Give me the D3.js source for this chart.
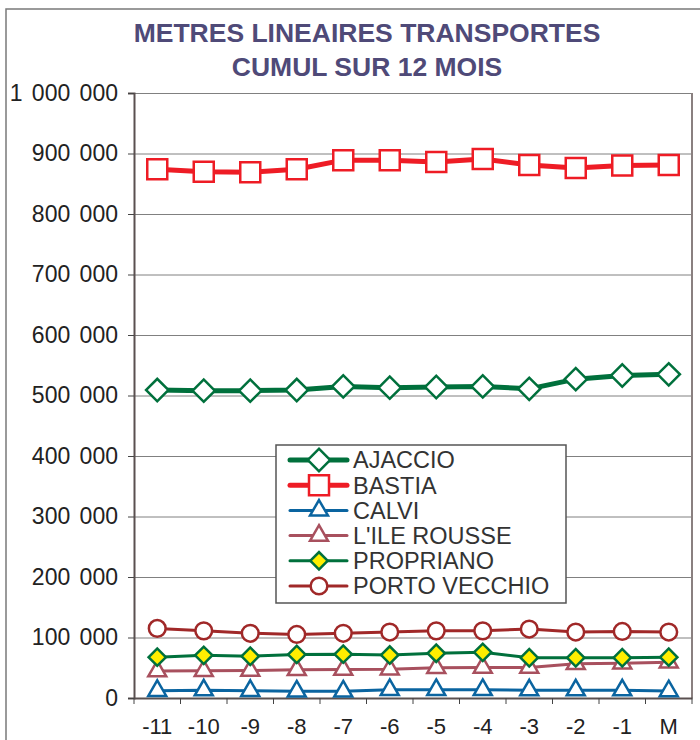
<!DOCTYPE html>
<html>
<head>
<meta charset="utf-8">
<script src="https://cdn.jsdelivr.net/npm/d3@7"></script>
<style>
  body { margin: 0; background: #fff; }
  svg { display: block; font-family: "Liberation Sans", Arial, sans-serif; }
  .tick text { fill: #222; font-size: 22px; }
  .yaxis .tick text { font-size: 23px; word-spacing: 3px; }
  .grid line { stroke: #808080; stroke-width: 1; }
  .grid .domain { display: none; }
  .title { fill: #4f4a78; font-weight: bold; font-size: 26.5px; }
  .label { fill: #333; font-size: 23.5px; }
</style>
</head>
<body>
<svg width="700" height="740"></svg>
<script>
var months = ["-11", "-10", "-9", "-8", "-7", "-6", "-5", "-4", "-3", "-2", "-1", "M"];
var ajaccio = [509000, 508000, 508000, 509000, 515000, 513000, 514000, 515000, 511000, 527000, 533000, 535000];
var bastia = [874000, 870000, 869000, 874000, 889000, 889000, 886000, 891000, 881000, 876000, 880000, 881000];
var calvi = [12000, 13000, 12000, 11000, 11000, 13500, 13500, 13500, 13000, 13000, 13000, 11500];
var ileRousse = [44500, 45000, 45500, 46500, 47000, 47500, 50000, 50500, 50500, 56500, 57500, 59000];
var propriano = [67500, 70500, 69000, 72000, 72500, 71000, 74000, 75500, 66500, 66500, 66500, 67500];
var portoVecchio = [115000, 111000, 107000, 105000, 107000, 109000, 111000, 111000, 114000, 109000, 110000, 109000];
var yTicks = [0, 100000, 200000, 300000, 400000, 500000, 600000, 700000, 800000, 900000, 1000000];

var series = [
  { name: "AJACCIO", values: ajaccio, color: "#00703c", width: 5, symbol: "diamond", size: 250, fill: "#fff" },
  { name: "BASTIA", values: bastia, color: "#ee1c25", width: 5, symbol: "square", size: 400, fill: "#fff" },
  { name: "CALVI", values: calvi, color: "#0a64a0", width: 3, symbol: "triangle", size: 140, fill: "#fff" },
  { name: "L'ILE ROUSSE", values: ileRousse, color: "#a8505e", width: 3, symbol: "triangle", size: 140, fill: "#fff" },
  { name: "PROPRIANO", values: propriano, color: "#00703c", width: 3, symbol: "diamond", size: 150, fill: "#ffee00" },
  { name: "PORTO VECCHIO", values: portoVecchio, color: "#a02828", width: 3, symbol: "circle", size: 220, fill: "#fff" }
];

var svg = d3.select("svg"),
  margin = { left: 134, right: 8, top: 93, bottom: 42 },
  width = svg.attr("width") - margin.left - margin.right,
  height = svg.attr("height") - margin.top - margin.bottom;

// outer chart frame
svg.append("rect")
  .attr("x", 6).attr("y", 9)
  .attr("width", 720).attr("height", 760)
  .attr("fill", "none").attr("stroke", "#7a7a7a").attr("stroke-width", 1.5);

svg.append("text").attr("class", "title")
  .attr("x", 367).attr("y", 42)
  .attr("text-anchor", "middle")
  .text("METRES LINEAIRES TRANSPORTES");
svg.append("text").attr("class", "title")
  .attr("x", 367).attr("y", 76)
  .attr("text-anchor", "middle")
  .text("CUMUL SUR 12 MOIS");

var g = svg.append("g")
  .attr("transform", "translate(" + margin.left + "," + margin.top + ")");

var x = d3.scaleBand().domain(months).range([0, width]);
var y = d3.scaleLinear().domain([0, 1000000]).range([height, 0]);
var cx = function(i) { return x(months[i]) + x.bandwidth() / 2; };

function fmt(v) {
  return d3.format(",")(v).replace(/,/g, " ");
}

// grid
g.append("g").attr("class", "grid")
  .call(d3.axisLeft(y).tickValues(yTicks).tickSize(-width).tickFormat(""));

// plot frame right side
g.append("line")
  .attr("x1", width).attr("x2", width).attr("y1", 0).attr("y2", height)
  .attr("stroke", "#8a8080").attr("stroke-width", 2);

var yAxis = g.append("g").attr("class", "yaxis")
  .call(d3.axisLeft(y).tickValues(yTicks).tickSize(6).tickPadding(10).tickFormat(fmt));
yAxis.select(".domain").attr("stroke", "#5a5050").attr("stroke-width", 2);
yAxis.selectAll(".tick line").attr("stroke", "#444");

var xAxis = g.append("g").attr("class", "xaxis")
  .attr("transform", "translate(0," + height + ")")
  .call(d3.axisBottom(x).tickSize(0).tickPadding(20));
xAxis.select(".domain").attr("stroke", "#5a5050").attr("stroke-width", 2);

// x ticks between categories
xAxis.selectAll("line.edge")
  .data(months.concat(["end"]))
  .enter()
  .append("line")
  .attr("class", "edge")
  .attr("x1", function(d, i) { return i * x.bandwidth(); })
  .attr("x2", function(d, i) { return i * x.bandwidth(); })
  .attr("y1", 0).attr("y2", 6)
  .attr("stroke", "#444");

function symbolPath(s) {
  var type = s.symbol === "circle" ? d3.symbolCircle
    : s.symbol === "triangle" ? d3.symbolTriangle
    : d3.symbolSquare;
  return d3.symbol().type(type).size(s.size)();
}
function symbolRotate(s) {
  return s.symbol === "diamond" ? "rotate(45)" : "";
}

var line = d3.line()
  .x(function(d, i) { return cx(i); })
  .y(function(d) { return y(d); });

series.forEach(function(s) {
  var sg = g.append("g");
  sg.append("path")
    .datum(s.values)
    .attr("d", line)
    .attr("fill", "none")
    .attr("stroke", s.color)
    .attr("stroke-width", s.width)
    .attr("stroke-linejoin", "round");
  sg.selectAll("path.pt")
    .data(s.values)
    .enter()
    .append("path")
    .attr("class", "pt")
    .attr("d", symbolPath(s))
    .attr("fill", s.fill)
    .attr("stroke", s.color)
    .attr("stroke-width", 2.5)
    .attr("transform", function(d, i) {
      return "translate(" + cx(i) + "," + y(d) + ")" + symbolRotate(s);
    });
});

// Legend
var legend = { x: 276, y: 445, w: 290, h: 158, first: 15, space: 25.2 };
var lg = svg.append("g");
lg.append("rect")
  .attr("x", legend.x).attr("y", legend.y)
  .attr("width", legend.w).attr("height", legend.h)
  .attr("fill", "#fff").attr("stroke", "#555").attr("stroke-width", 1.5);

var items = lg.selectAll("g.item")
  .data(series)
  .enter()
  .append("g")
  .attr("class", "item")
  .attr("transform", function(d, i) {
    return "translate(" + legend.x + "," + (legend.y + legend.first + legend.space * i) + ")";
  });
items.append("line")
  .attr("x1", 14).attr("x2", 71)
  .attr("stroke", function(d) { return d.color; })
  .attr("stroke-width", function(d) { return d.width; })
  .attr("stroke-linecap", "round");
items.append("path")
  .attr("d", function(d) { return symbolPath(d); })
  .attr("transform", function(d) { return "translate(43,0)" + symbolRotate(d); })
  .attr("fill", function(d) { return d.fill; })
  .attr("stroke", function(d) { return d.color; })
  .attr("stroke-width", 2.5);
items.append("text")
  .attr("class", "label")
  .attr("x", 77)
  .attr("dy", "0.36em")
  .text(function(d) { return d.name; });
</script>
</body>
</html>
